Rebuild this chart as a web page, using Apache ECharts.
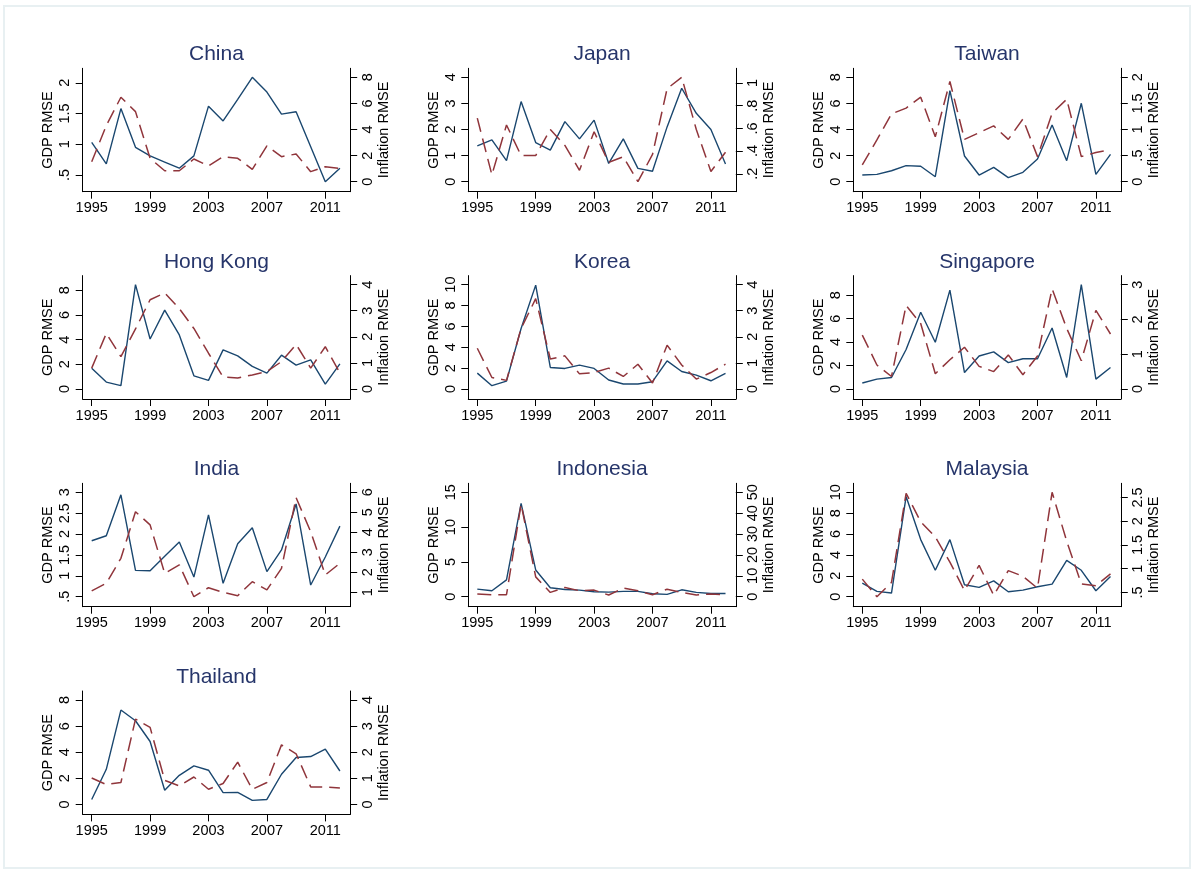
<!DOCTYPE html>
<html>
<head>
<meta charset="utf-8">
<title>GDP and Inflation RMSE, 1995-2012</title>
<script src="https://cdn.jsdelivr.net/npm/echarts@6/dist/echarts.min.js"></script>
<style>
  html, body { margin: 0; padding: 0; background: #ffffff; }
  #chart { width: 1196px; height: 873px; }
</style>
</head>
<body>
<div id="chart"></div>
<script>
// ---- data ----
const years = [1995, 1996, 1997, 1998, 1999, 2000, 2001, 2002, 2003, 2004, 2005, 2006, 2007, 2008, 2009, 2010, 2011, 2012];
const yearTicks = [1995, 1999, 2003, 2007, 2011];

const countries = ['China', 'Japan', 'Taiwan', 'Hong Kong', 'Korea', 'Singapore', 'India', 'Indonesia', 'Malaysia', 'Thailand'];

const chinaGdp = [1.03, 0.68, 1.58, 0.95, 0.81, 0.71, 0.61, 0.81, 1.62, 1.38, 1.73, 2.09, 1.85, 1.49, 1.53, 0.96, 0.39, 0.61];
const chinaInf = [1.53, 4.3, 6.47, 5.37, 1.79, 0.84, 0.84, 1.74, 1.2, 1.92, 1.79, 0.95, 2.74, 1.92, 2.12, 0.77, 1.15, 1.02];

const japanGdp = [1.37, 1.6, 0.81, 3.07, 1.5, 1.21, 2.3, 1.64, 2.36, 0.7, 1.64, 0.51, 0.4, 2.1, 3.58, 2.62, 2.0, 0.68];
const japanInf = [0.69, 0.19, 0.63, 0.36, 0.36, 0.59, 0.45, 0.23, 0.57, 0.3, 0.35, 0.13, 0.37, 0.95, 1.05, 0.59, 0.22, 0.39];

const taiwanGdp = [0.51, 0.56, 0.84, 1.23, 1.18, 0.38, 6.98, 1.97, 0.51, 1.1, 0.31, 0.72, 1.74, 4.35, 1.61, 6.01, 0.56, 2.1];
const taiwanInf = [0.32, 0.8, 1.3, 1.41, 1.62, 0.86, 1.92, 0.81, 0.94, 1.07, 0.81, 1.2, 0.48, 1.31, 1.58, 0.48, 0.56, 0.61];

const hongKongGdp = [1.69, 0.56, 0.27, 8.46, 4.05, 6.39, 4.38, 1.07, 0.7, 3.17, 2.68, 1.83, 1.29, 2.74, 1.93, 2.36, 0.4, 2.04];
const hongKongInf = [0.8, 2.13, 1.24, 2.3, 3.42, 3.68, 3.08, 2.32, 1.37, 0.46, 0.42, 0.54, 0.67, 1.05, 1.71, 0.8, 1.62, 0.61];

const koreaGdp = [1.52, 0.32, 0.76, 5.8, 9.95, 2.06, 1.97, 2.29, 1.97, 0.86, 0.48, 0.48, 0.7, 2.7, 1.68, 1.33, 0.79, 1.49];
const koreaInf = [1.56, 0.44, 0.33, 2.32, 3.46, 1.15, 1.27, 0.58, 0.63, 0.8, 0.48, 0.95, 0.23, 1.68, 0.92, 0.38, 0.63, 0.95];

const singaporeGdp = [0.51, 0.84, 0.98, 3.37, 6.54, 3.99, 8.43, 1.4, 2.81, 3.17, 2.25, 2.58, 2.58, 5.2, 0.98, 8.9, 0.84, 1.83];
const singaporeInf = [1.55, 0.69, 0.36, 2.4, 1.88, 0.44, 0.84, 1.2, 0.65, 0.5, 0.98, 0.41, 0.95, 2.88, 1.74, 0.81, 2.26, 1.58];

const indiaGdp = [1.84, 1.96, 2.94, 1.13, 1.12, 1.47, 1.81, 0.97, 2.46, 0.82, 1.77, 2.15, 1.1, 1.62, 2.72, 0.78, 1.45, 2.19];
const indiaInf = [1.07, 1.45, 2.7, 5.03, 4.37, 1.95, 2.37, 0.78, 1.23, 1.0, 0.83, 1.53, 1.12, 2.2, 5.73, 4.03, 1.87, 2.45];

const indonesiaGdp = [1.09, 0.85, 2.42, 13.4, 3.84, 1.28, 1.04, 0.95, 0.71, 0.66, 0.76, 0.76, 0.43, 0.33, 0.99, 0.62, 0.47, 0.47];
const indonesiaInf = [1.3, 0.95, 0.95, 44.3, 9.5, 2.06, 4.4, 2.85, 3.16, 0.8, 4.1, 2.85, 0.95, 3.6, 2.06, 0.8, 1.3, 0.95];

const malaysiaGdp = [1.3, 0.51, 0.35, 9.59, 5.47, 2.53, 5.47, 1.14, 0.89, 1.52, 0.47, 0.63, 0.95, 1.2, 3.48, 2.53, 0.57, 1.93];
const malaysiaInf = [0.78, 0.41, 0.71, 2.59, 1.99, 1.67, 1.14, 0.54, 1.07, 0.44, 0.96, 0.84, 0.59, 2.61, 1.58, 0.68, 0.64, 0.89];

const thailandGdp = [0.38, 2.69, 7.23, 6.41, 4.82, 1.08, 2.23, 2.95, 2.62, 0.9, 0.92, 0.31, 0.38, 2.31, 3.59, 3.67, 4.23, 2.56];
const thailandInf = [1.01, 0.76, 0.84, 3.27, 2.95, 0.92, 0.71, 1.05, 0.58, 0.8, 1.62, 0.58, 0.84, 2.28, 1.94, 0.67, 0.67, 0.63];

// tick labels for the GDP (left) and inflation (right) axes
const gdpTicks = [
  [0.5, 1, 1.5, 2], [0, 1, 2, 3, 4], [0, 2, 4, 6, 8],
  [0, 2, 4, 6, 8], [0, 2, 4, 6, 8, 10], [0, 2, 4, 6, 8],
  [0.5, 1, 1.5, 2, 2.5, 3], [0, 5, 10, 15], [0, 2, 4, 6, 8, 10],
  [0, 2, 4, 6, 8]
];
const infTicks = [
  [0, 2, 4, 6, 8], [0.2, 0.4, 0.6, 0.8, 1], [0, 0.5, 1, 1.5, 2],
  [0, 1, 2, 3, 4], [0, 1, 2, 3, 4], [0, 1, 2, 3],
  [1, 2, 3, 4, 5, 6], [0, 10, 20, 30, 40, 50], [0.5, 1, 1.5, 2, 2.5],
  [0, 1, 2, 3, 4]
];

const gdpSeries = [chinaGdp, japanGdp, taiwanGdp, hongKongGdp, koreaGdp, singaporeGdp, indiaGdp, indonesiaGdp, malaysiaGdp, thailandGdp];
const infSeries = [chinaInf, japanInf, taiwanInf, hongKongInf, koreaInf, singaporeInf, indiaInf, indonesiaInf, malaysiaInf, thailandInf];

// ---- layout ----
const FONT = "'Liberation Sans', Arial, Helvetica, sans-serif";
const COL_LEFT = [82.7, 468.3, 853.3];
const ROW_TOP = [68.3, 275.6, 483.3, 691];
const W = 267.5, H = 123.4;
const PAD_L = 9, PAD_R = 10.3, PAD_T = 9, PAD_B = 10;
const BLUE = '#1a476f';
const RED = '#90353b';
const TITLE_COLOR = '#26356a';

// Stata-style numbers: ".5" rather than "0.5"
function fmt(v) {
  const s = String(Math.round(v * 100) / 100);
  return s.replace(/^0\./, '.');
}
function fmtYear(v) {
  return String(Math.round(v));
}

// padded axis extent around the data/tick range
function yExtent(values, ticks) {
  const lo = Math.min(Math.min(...values), ticks[0]);
  const hi = Math.max(Math.max(...values), ticks[ticks.length - 1]);
  const inner = H - PAD_T - PAD_B;
  const span = hi - lo;
  return { min: lo - span * PAD_B / inner, max: hi + span * PAD_T / inner };
}

const xInner = W - PAD_L - PAD_R;
const yearSpan = years[years.length - 1] - years[0];
const xMin = years[0] - PAD_L * yearSpan / xInner;
const xMax = years[years.length - 1] + PAD_R * yearSpan / xInner;

const grids = [], xAxes = [], yAxes = [], series = [], graphics = [];

const axisLineStyle = { color: '#000', width: 1 };
const labelStyle = { fontSize: 14.5, color: '#000', fontFamily: FONT };

countries.forEach((name, i) => {
  const col = i % 3, row = Math.floor(i / 3);
  const left = COL_LEFT[col], top = ROW_TOP[row];
  grids.push({ left: left, top: top, width: W, height: H });

  xAxes.push({
    type: 'value', gridIndex: i, min: xMin, max: xMax,
    axisLine: { show: true, onZero: false, lineStyle: axisLineStyle },
    axisTick: { show: true, length: 7, customValues: yearTicks, lineStyle: axisLineStyle },
    axisLabel: { customValues: yearTicks, margin: 9, formatter: fmtYear, ...labelStyle },
    splitLine: { show: false }
  });

  const ge = yExtent(gdpSeries[i], gdpTicks[i]);
  yAxes.push({
    type: 'value', gridIndex: i, position: 'left', min: ge.min, max: ge.max,
    axisLine: { show: true, onZero: false, lineStyle: axisLineStyle },
    axisTick: { show: true, length: 7, customValues: gdpTicks[i], lineStyle: axisLineStyle },
    axisLabel: { customValues: gdpTicks[i], rotate: 90, margin: 10, formatter: fmt, ...labelStyle },
    splitLine: { show: false },
    name: 'GDP RMSE', nameLocation: 'middle', nameGap: 27,
    nameTextStyle: { fontSize: 14.5, color: '#000', fontFamily: FONT }
  });

  const ie = yExtent(infSeries[i], infTicks[i]);
  yAxes.push({
    type: 'value', gridIndex: i, position: 'right', min: ie.min, max: ie.max,
    axisLine: { show: true, onZero: false, lineStyle: axisLineStyle },
    axisTick: { show: true, length: 7, customValues: infTicks[i], lineStyle: axisLineStyle },
    axisLabel: { customValues: infTicks[i], rotate: 90, margin: 10, formatter: fmt, ...labelStyle },
    splitLine: { show: false },
    name: 'Inflation RMSE', nameLocation: 'middle', nameGap: 22,
    nameTextStyle: { fontSize: 14.5, color: '#000', fontFamily: FONT }
  });

  series.push({
    type: 'line', name: name + ' GDP', xAxisIndex: i, yAxisIndex: 2 * i,
    data: years.map((y, k) => [y, gdpSeries[i][k]]),
    symbol: 'none', silent: true,
    lineStyle: { color: BLUE, width: 1.4 }, itemStyle: { color: BLUE }
  });
  series.push({
    type: 'line', name: name + ' inflation', xAxisIndex: i, yAxisIndex: 2 * i + 1,
    data: years.map((y, k) => [y, infSeries[i][k]]),
    symbol: 'none', silent: true,
    lineStyle: { color: RED, width: 1.5, type: [14, 7] }, itemStyle: { color: RED }
  });

  graphics.push({
    type: 'text', x: left + W / 2, y: top - 13.8, silent: true,
    style: { text: name, align: 'center', verticalAlign: 'middle', font: '21px ' + FONT, fill: TITLE_COLOR }
  });
});

// outer frame of the graph region
graphics.push({
  type: 'rect', silent: true, z: -1,
  shape: { x: 4, y: 6, width: 1186, height: 862 },
  style: { fill: 'none', stroke: '#e8f0f2', lineWidth: 2 }
});

const chart = echarts.init(document.getElementById('chart'), null, { renderer: 'canvas' });
chart.setOption({
  animation: false,
  backgroundColor: '#ffffff',
  grid: grids,
  xAxis: xAxes,
  yAxis: yAxes,
  series: series,
  graphic: graphics
});
</script>
</body>
</html>
